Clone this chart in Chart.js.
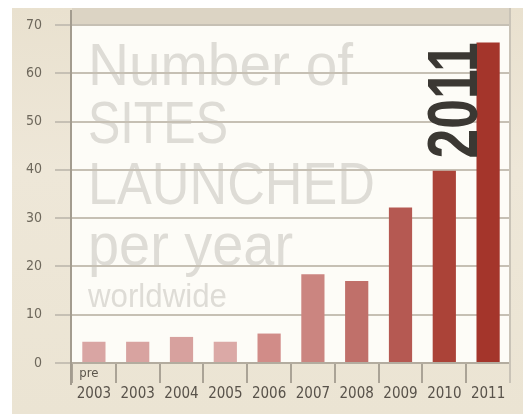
<!DOCTYPE html>
<html>
<head>
<meta charset="utf-8">
<script src="https://cdn.jsdelivr.net/npm/chart.js@4"></script>
<style>
  html, body { margin: 0; padding: 0; background: #ffffff; }
  #wrap { position: relative; width: 523px; height: 414px; overflow: hidden; }
  #paper {
    position: absolute; left: 12px; top: 8px; width: 511px; height: 406px;
    background: linear-gradient(180deg, #e9e1cf 0%, #eee7d8 40%, #ebe4d3 100%);
  }
  #c { position: absolute; left: 0; top: 0; }
</style>
</head>
<body>
<div id="wrap">
  <div id="paper"></div>
  <canvas id="c" width="523" height="414"></canvas>
</div>
<script>
// data
const categories = ['pre 2003', '2003', '2004', '2005', '2006', '2007', '2008', '2009', '2010', '2011'];
const sitesLaunched = [4.4, 4.4, 5.4, 4.4, 6.1, 18.4, 17.0, 32.2, 39.8, 66.4];
const barColors = ['#d9a5a3', '#d8a3a0', '#d7a19e', '#dba9a6', '#d18c88',
                   '#cb8580', '#c0706a', '#b55952', '#ab4338', '#a4352b'];
const yMin = 0;
const yMax = 70;
const yStep = 10;
const titleLines = ['Number of', 'SITES', 'LAUNCHED', 'per year', 'worldwide'];
const highlightYear = '2011';

const NARROW = "'Liberation Sans Narrow', 'DejaVu Sans Condensed', 'Liberation Sans', sans-serif";

// big watermark text behind the bars: size, baseline offset from chart top, width to fit
const titleLayout = [
  {size: 60, dy: 60,  w: 265},
  {size: 60, dy: 118, w: 140},
  {size: 60, dy: 179, w: 287},
  {size: 60, dy: 240, w: 205},
  {size: 33, dy: 282, w: 139}
];

const paperPlugin = {
  id: 'paper',
  beforeDraw(chart) {
    const ctx = chart.ctx;
    const a = chart.chartArea;
    ctx.save();
    // shaded band above the plot
    ctx.fillStyle = '#dcd4c4';
    ctx.fillRect(a.left, 8, a.right - a.left, a.top - 8);
    // white plot
    ctx.fillStyle = '#fdfcf7';
    ctx.fillRect(a.left, a.top, a.right - a.left, a.bottom - a.top);
    // watermark title
    ctx.fillStyle = 'rgb(222,220,214)';
    ctx.textAlign = 'left';
    ctx.textBaseline = 'alphabetic';
    titleLines.forEach((t, i) => {
      const l = titleLayout[i];
      ctx.font = l.size + "px 'Liberation Sans', 'DejaVu Sans', sans-serif";
      const mw = ctx.measureText(t).width;
      ctx.save();
      ctx.translate(a.left + 16, a.top + l.dy);
      ctx.scale(l.w / mw, 1);
      ctx.fillText(t, 0, 0);
      ctx.restore();
    });
    ctx.restore();
  },
  afterDatasetsDraw(chart) {
    const ctx = chart.ctx;
    const meta = chart.getDatasetMeta(0);
    const idx = categories.indexOf(highlightYear);
    const bar = meta.data[idx];
    if (!bar) return;
    // rotated year label hugging the last bar
    ctx.save();
    ctx.fillStyle = '#3b3833';
    ctx.font = "bold 70px 'Liberation Sans', 'DejaVu Sans', sans-serif";
    const mw = ctx.measureText(highlightYear).width;
    ctx.translate(bar.x - bar.width / 2 + 1, bar.y);
    ctx.rotate(-Math.PI / 2);
    ctx.scale(116 / mw, 1);
    ctx.textAlign = 'right';
    ctx.textBaseline = 'alphabetic';
    ctx.fillText(highlightYear, 0, 0);
    ctx.restore();
  },
  afterDraw(chart) {
    const ctx = chart.ctx;
    const a = chart.chartArea;
    ctx.save();
    // extended left axis and right edge
    ctx.strokeStyle = '#a39c8f';
    ctx.lineWidth = 2;
    ctx.beginPath();
    ctx.moveTo(a.left - 1, 10);
    ctx.lineTo(a.left - 1, a.bottom + 22);
    ctx.stroke();
    ctx.strokeStyle = '#c9c3b7';
    ctx.beginPath();
    ctx.moveTo(a.right, 8);
    ctx.lineTo(a.right, a.bottom + 20);
    ctx.stroke();
    // small prefix word above the first year
    const xs = chart.scales.x;
    categories.forEach((c, i) => {
      const parts = c.split(' ');
      if (parts.length > 1) {
        ctx.fillStyle = '#5c564c';
        ctx.font = "13px " + NARROW;
        ctx.textAlign = 'center';
        ctx.textBaseline = 'alphabetic';
        ctx.fillText(parts.slice(0, -1).join(' '), xs.getPixelForValue(i) - 5, a.bottom + 14);
      }
    });
    ctx.restore();
  }
};

const chart = new Chart(document.getElementById('c').getContext('2d'), {
  type: 'bar',
  data: {
    labels: categories,
    datasets: [{
      data: sitesLaunched,
      backgroundColor: barColors,
      borderWidth: 0,
      categoryPercentage: 1,
      barPercentage: 0.53
    }]
  },
  options: {
    responsive: false,
    animation: false,
    devicePixelRatio: 1,
    layout: { padding: { top: 25, right: 13, left: 0, bottom: 0 } },
    plugins: { legend: { display: false }, tooltip: { enabled: false } },
    scales: {
      x: {
        grid: { offset: true, drawOnChartArea: false, drawTicks: true, tickLength: 20, color: '#aaa396', lineWidth: 2 },
        border: { color: '#b3ac9f', width: 2 },
        ticks: {
          color: '#58524a',
          font: { family: NARROW, size: 15 },
          padding: 2,
          maxRotation: 0,
          autoSkip: false,
          callback: function (v, i) { const p = categories[i].split(' '); return p[p.length - 1]; }
        },
        afterFit(scale) { scale.height = 51; }
      },
      y: {
        min: yMin,
        max: yMax,
        grid: { color: '#c6c0b4', lineWidth: 2, tickLength: 17 },
        border: { display: false },
        ticks: {
          stepSize: yStep,
          color: '#6e685c',
          font: { family: NARROW, size: 14 },
          padding: 13
        },
        afterFit(scale) { scale.width = 72; }
      }
    }
  },
  plugins: [paperPlugin]
});
</script>
</body>
</html>
